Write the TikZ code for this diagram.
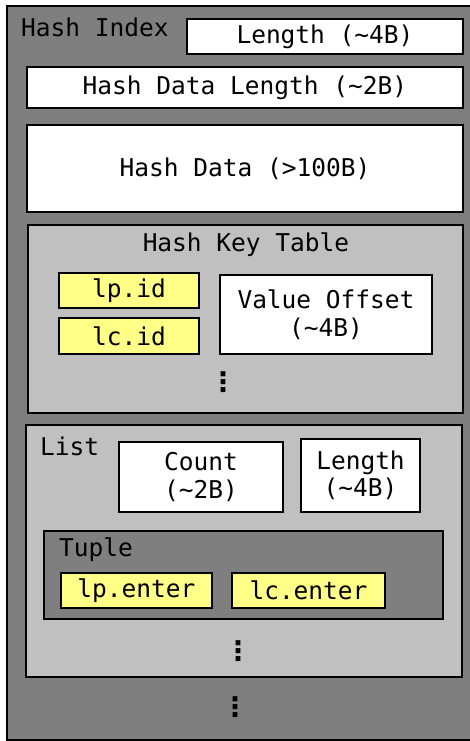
\documentclass[tikz,border=0pt]{standalone}
\usepackage{fontspec}
\setmainfont{DejaVu Sans Mono}
\newfontfamily\dotsfont{DejaVu Sans}
\definecolor{darkgrey}{HTML}{7F7F7F}
\definecolor{lightgrey}{HTML}{C0C0C0}
\definecolor{keyyellow}{HTML}{FFFF88}
\tikzset{
  box/.style={draw=black, line width=1.4pt, rectangle, inner sep=0pt, align=center,
              font=\fontsize{24.5}{27.5}\selectfont},
  field/.style={box, fill=white},
  key/.style={box, fill=keyyellow},
  lbl/.style={inner sep=0pt, font=\fontsize{24.5}{27.5}\selectfont},
  more/.style={inner sep=0pt, font=\dotsfont\bfseries\fontsize{27}{27}\selectfont}
}
\begin{document}
\begin{tikzpicture}[x=1pt,y=-1pt]
\useasboundingbox (0,0) rectangle (470,741);
% outer container
\node[box, fill=darkgrey, minimum width=470pt, minimum height=734pt] (hashindex) at (242,373) {};
\node[lbl, anchor=base west] (hashindextitle) at (21,37) {Hash Index};
\node[field, minimum width=276pt, minimum height=35pt] (len) at (325,36.5) {Length (\textasciitilde4B)};
\node[field, minimum width=436pt, minimum height=41pt] (hdlen) at (245,87.5) {Hash Data Length (\textasciitilde2B)};
\node[field, minimum width=436pt, minimum height=87pt] (hdata) at (245,168.5) {Hash Data (>100B)};
% hash key table
\node[box, fill=lightgrey, minimum width=435pt, minimum height=188pt] (hkt) at (245.5,319) {};
\node[lbl, anchor=base] (hkttitle) at (246,251) {Hash Key Table};
\node[key, minimum width=140pt, minimum height=35pt] (lpid) at (129,290.5) {lp.id};
\node[key, minimum width=140pt, minimum height=36pt] (lcid) at (129,336) {lc.id};
\node[field, minimum width=212pt, minimum height=79pt] (voff) at (326,314.5) {Value Offset\\(\textasciitilde4B)};
\node[more] (hktmore) at (223,382) {⋮};
% list
\node[box, fill=lightgrey, minimum width=436pt, minimum height=252pt] (list) at (244,551) {};
\node[lbl, anchor=base west] (listtitle) at (40,455) {List};
\node[field, minimum width=164pt, minimum height=70pt] (count) at (201,477) {Count\\(\textasciitilde2B)};
\node[field, minimum width=119pt, minimum height=73pt] (llen) at (360.5,475.5) {Length\\(\textasciitilde4B)};
% tuple
\node[box, fill=darkgrey, minimum width=399pt, minimum height=88pt] (tuple) at (243.5,575) {};
\node[lbl, anchor=base west] (tupletitle) at (59,556) {Tuple};
\node[key, minimum width=151pt, minimum height=35pt] (lpenter) at (136.5,590.5) {lp.enter};
\node[key, minimum width=153pt, minimum height=35pt] (lcenter) at (308.5,590.5) {lc.enter};
\node[more] (listmore) at (238,651) {⋮};
\node[more] (hashmore) at (235,707) {⋮};
\end{tikzpicture}
\end{document}
